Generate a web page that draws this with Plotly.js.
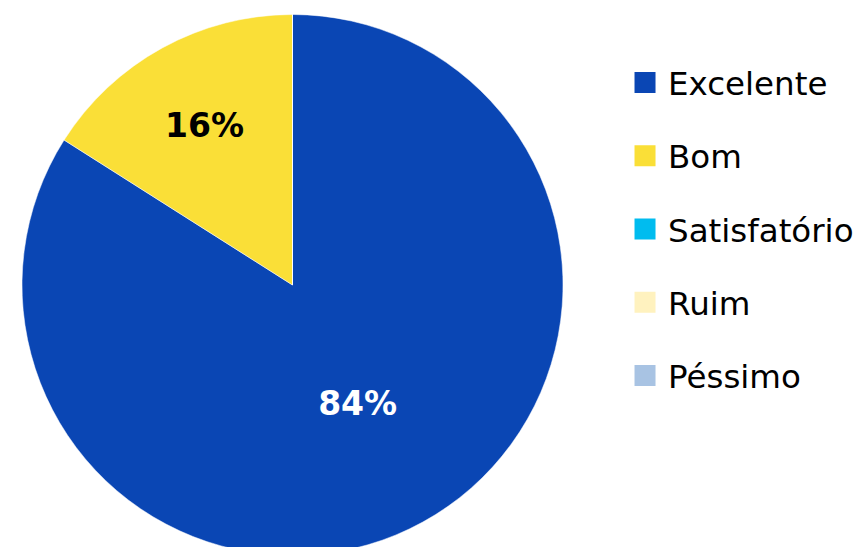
<!DOCTYPE html>
<html>
<head>
<meta charset="utf-8">
<script src="https://cdn.plot.ly/plotly-3.0.1.min.js"></script>
<style>
html, body { margin: 0; padding: 0; background: #ffffff; overflow: hidden; }
#chart { width: 862px; height: 565px; }
</style>
</head>
<body>
<div id="chart"></div>
<script>
const categories = ['Excelente', 'Bom', 'Satisfatório', 'Ruim', 'Péssimo'];
const values = [84, 16, 0, 0, 0];
const colors = ['#0A46B4', '#FADF37', '#00BCEF', '#FFF2BF', '#A8C3E3'];
const labelColors = ['#FFFFFF', '#000000', '#000000', '#000000', '#000000'];

const pieTrace = {
  type: 'pie',
  labels: categories,
  values: values,
  sort: false,
  direction: 'clockwise',
  rotation: 0,
  showlegend: false,
  marker: { colors: colors, line: { color: '#FFFFFF', width: 0.5 } },
  textinfo: 'percent',
  texttemplate: '%{percent:.0%}',
  textposition: 'inside',
  insidetextorientation: 'horizontal',
  textfont: { family: 'DejaVu Sans', size: 33, color: labelColors, weight: 'bold' },
  hoverinfo: 'label+percent',
  domain: { x: [22 / 862, 563 / 862], y: [0, 1] }
};

const legendTraces = categories.map((name, i) => ({
  type: 'scatter',
  mode: 'markers',
  x: [null],
  y: [null],
  name: name,
  legendgroup: 'g' + i,
  showlegend: true,
  marker: { symbol: 'square', size: 16, color: colors[i], line: { color: colors[i], width: 5 } },
  hoverinfo: 'skip'
}));

const layout = {
  width: 862,
  height: 565,
  margin: { l: 0, r: 0, t: 14, b: 9, pad: 0 },
  paper_bgcolor: '#FFFFFF',
  plot_bgcolor: '#FFFFFF',
  xaxis: { visible: false },
  yaxis: { visible: false },
  showlegend: true,
  legend: {
    x: 0.7216,
    xanchor: 'left',
    y: 0.9245,
    yanchor: 'top',
    itemwidth: 36,
    font: { family: 'DejaVu Sans', size: 32.5, color: '#000000' },
    tracegroupgap: 28,
    bgcolor: 'rgba(0,0,0,0)',
    borderwidth: 0
  }
};

Plotly.newPlot('chart', [pieTrace].concat(legendTraces), layout, { displayModeBar: false, staticPlot: true });
</script>
</body>
</html>
